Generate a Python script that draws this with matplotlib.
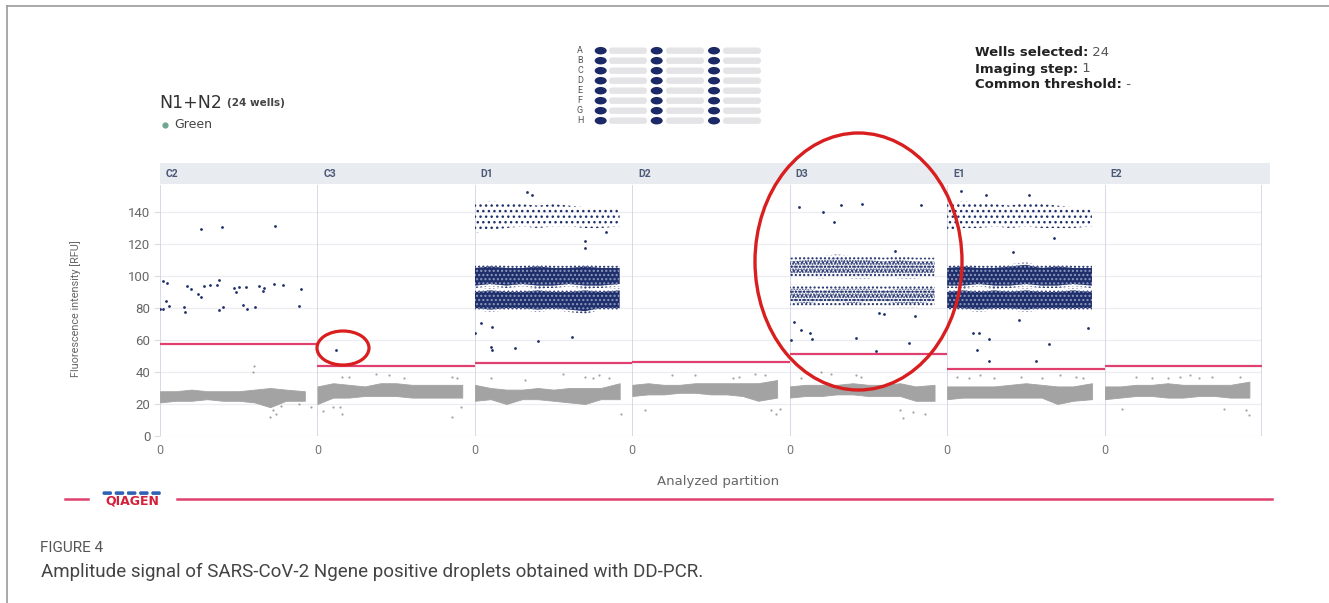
import matplotlib
matplotlib.use("Agg")
import matplotlib.pyplot as plt
from matplotlib.patches import Ellipse, Rectangle, FancyBboxPatch
import numpy as np

W, H = 1329, 603

# ---------------- data ----------------
wells = ["C2", "C3", "D1", "D2", "D3", "E1", "E2"]
thresholds = [57.5, 43.5, 45.4, 46.0, 51.3, 42.1, 43.5]
knots = [0, 100, 200, 300, 400, 500, 600, 700, 800, 920]

gray_lo = {
    "C2": [21, 22, 22, 23, 22, 22, 21, 18, 22, 22],
    "C3": [20, 24, 24, 25, 25, 25, 24, 24, 24, 24],
    "D1": [22, 23, 20, 23, 23, 22, 21, 20, 23, 23],
    "D2": [25, 26, 26, 27, 27, 26, 26, 25, 22, 24],
    "D3": [24, 25, 25, 26, 26, 25, 25, 25, 22, 22],
    "E1": [23, 24, 24, 24, 24, 24, 24, 20, 22, 23],
    "E2": [23, 24, 25, 25, 24, 24, 25, 25, 24, 24],
}
gray_hi = {
    "C2": [28, 28, 29, 28, 28, 28, 29, 30, 29, 28],
    "C3": [31, 33, 32, 31, 33, 33, 32, 32, 32, 32],
    "D1": [32, 30, 29, 29, 30, 29, 30, 30, 30, 33],
    "D2": [32, 33, 32, 32, 33, 33, 33, 33, 33, 35],
    "D3": [31, 32, 32, 32, 33, 32, 32, 33, 31, 32],
    "E1": [31, 31, 31, 31, 32, 33, 32, 31, 31, 33],
    "E2": [31, 31, 32, 32, 33, 32, 32, 32, 32, 34],
}

# dense positive droplet bands (lower, upper) per well
band_hi_lo = {"D1": [94, 95, 94, 95, 94, 94, 95, 94, 94, 95], "D3": [100, 101, 100, 101, 100, 100, 101, 100, 100, 101], "E1": [94, 94, 95, 94, 94, 95, 94, 94, 95, 94]}
band_hi_hi = {"D1": [105, 106, 105, 105, 106, 105, 105, 106, 105, 105], "D3": [110, 111, 111, 112, 111, 111, 110, 111, 110, 110], "E1": [105, 106, 105, 105, 106, 107, 105, 106, 105, 105]}
band_lo_lo = {"D1": [80, 79, 80, 80, 79, 80, 79, 78, 80, 80], "D3": [83, 82, 83, 83, 82, 83, 83, 82, 82, 83], "E1": [80, 80, 79, 80, 80, 79, 80, 80, 80, 80]}
band_lo_hi = {"D1": [90, 91, 90, 90, 91, 90, 90, 91, 90, 91], "D3": [93, 93, 92, 93, 93, 93, 92, 93, 93, 93], "E1": [90, 91, 90, 91, 90, 91, 90, 90, 91, 90]}
top_lo = {"D1": [127, 129, 130, 131, 130, 131, 131, 130, 130, 131], "E1": [129, 130, 130, 131, 130, 131, 130, 130, 130, 131]}
top_hi = {"D1": [146, 147, 146, 145, 144, 145, 144, 143, 143, 142], "E1": [146, 147, 146, 145, 144, 146, 145, 144, 143, 142]}

# sparse positive droplets (x partition, RFU)
pos_x = {
    "C2": [0, 17, 21, 42, 36, 57, 155, 159, 170, 199, 239, 260, 262, 277, 320, 361, 377, 375, 403, 392,
           472, 483, 504, 526, 546, 550, 604, 631, 652, 663, 724, 731, 780, 881, 896],
    "C3": [119],
    "D1": [42, 106, 404, 614, 102, 106, 254, 0, 698, 698, 334, 364, 834],
    "D2": [],
    "D3": [57, 212, 324, 461, 836, 282, 26, 70, 127, 142, 7, 424, 546, 756, 671, 565, 597, 795],
    "E1": [163, 205, 267, 188, 269, 562, 649, 892, 454, 418, 90, 518, 248, 678],
    "E2": [],
}
pos_y = {
    "C2": [79.4, 79.5, 97, 95.4, 84.4, 81.2, 80.4, 77.3, 93.7, 92, 88.5, 87, 129.4, 93.7, 94.2, 94.2, 97.5, 79,
           80.6, 130.4, 92.3, 90.2, 93.1, 81.9, 93.3, 79.4, 80.8, 93.9, 90.6, 92.3, 94.8, 131.4, 94.4, 81.2, 91.9],
    "C3": [53.8],
    "D1": [70.4, 68.3, 59.6, 62, 55.8, 53.8, 54.8, 64.2, 121.9, 117.7, 152.3, 150.6, 127.7],
    "D2": [],
    "D3": [143.3, 140.2, 144.4, 145, 144.4, 134, 71, 66.3, 64.2, 60.6, 60, 61.5, 53.3, 57.9, 115.6, 76.8, 76, 75],
    "E1": [64.6, 64.2, 60.4, 53.8, 47.1, 46.7, 57.7, 67.7, 72.5, 115, 153, 150.8, 150.8, 123.5],
    "E2": [],
}
# sparse negative droplets (x partition, RFU)
neg_x = {
    "C2": [598, 592, 700, 720, 740, 770, 880, 960],
    "C3": [36, 99, 146, 156, 853, 915, 375, 453, 549, 156, 203, 853, 885],
    "D1": [100, 320, 560, 700, 750, 790, 850, 930],
    "D2": [80, 250, 400, 640, 680, 780, 840, 880, 910, 940],
    "D3": [70, 200, 260, 420, 450, 700, 720, 780, 860],
    "E1": [60, 140, 210, 300, 470, 600, 720, 820, 860],
    "E2": [110, 200, 300, 400, 480, 540, 600, 680, 760, 860, 900, 920],
}
neg_y = {
    "C2": [44, 40, 12, 16, 14, 19, 20, 18],
    "C3": [15.6, 18.3, 18.3, 13.5, 12, 18.3, 38.7, 38, 36, 37, 36.7, 36.7, 36],
    "D1": [36, 35, 39, 37, 36, 38, 36, 14],
    "D2": [16, 38, 38, 36, 37, 39, 38, 16, 14, 17],
    "D3": [36, 40, 39, 38, 37, 16, 11, 15, 14],
    "E1": [37, 36, 38, 36, 37, 36, 38, 37, 36],
    "E2": [17, 37, 36, 36, 37, 38, 36, 37, 17, 37, 16, 13],
}

y_ticks = [0, 20, 40, 60, 80, 100, 120, 140]

# ---------------- figure ----------------
plt.rcParams["font.family"] = ["Roboto", "DejaVu Sans"]
plt.rcParams["hatch.linewidth"] = 1.0
fig = plt.figure(figsize=(W / 100, H / 100), dpi=100)
fig.patch.set_facecolor("white")

NAVY = "#1f2f6b"
GRAY = "#a3a3a3"
PINK = "#e0406e"

px_left, px_right = 160, 1262
px_top, px_bot = 185, 436
pw = (px_right - px_left) / len(wells)

axes = []
for i, w in enumerate(wells):
    l = px_left + i * pw
    ax = fig.add_axes([l / W, 1 - px_bot / H, pw / W, (px_bot - px_top) / H])
    ax.set_xlim(0, 1000)
    ax.set_ylim(0, 156.9)
    for s in ax.spines.values():
        s.set_visible(False)
    ax.axvline(0, color="#d3d7e5", lw=1.3, zorder=1)
    if i == len(wells) - 1:
        ax.axvline(1000, color="#d3d7e5", lw=1.3, zorder=1)
    for yt in y_ticks:
        ax.axhline(yt, color="#ececf2", lw=0.9, zorder=0)
    ax.set_yticks(y_ticks)
    ax.set_xticks([0])
    ax.set_xticklabels(["0"])
    ax.tick_params(axis="x", length=0, pad=6, labelsize=9, labelcolor="#777777")
    if i == 0:
        ax.tick_params(axis="y", length=4, color="#dddddd", pad=3, labelsize=9.5, labelcolor="#666666")
    else:
        ax.tick_params(axis="y", length=0, labelleft=False)

    # negative cluster band
    ax.fill_between(knots, gray_lo[w], gray_hi[w], color=GRAY, lw=0.6, edgecolor=GRAY, zorder=2)
    ax.scatter(neg_x[w], neg_y[w], s=2.5, color=GRAY, lw=0, zorder=2)

    # threshold
    ax.axhline(thresholds[i], color=PINK, lw=1.6, zorder=3)

    # positive bands
    if w in band_hi_lo:
        dense = w != "D3"
        for lo, hi in ((band_hi_lo[w], band_hi_hi[w]), (band_lo_lo[w], band_lo_hi[w])):
            lo = np.asarray(lo, float)
            hi = np.asarray(hi, float)
            # fuzzy fringe
            ax.fill_between(knots, lo - 1.5, hi + 1.5, facecolor="none", edgecolor=NAVY, hatch="....", lw=0, zorder=3)
            if dense:
                ax.fill_between(knots, lo, hi, facecolor=NAVY, edgecolor="#8f9ac0", hatch="....", lw=0, zorder=3)
            else:
                ax.fill_between(knots, lo + 1.0, hi - 1.0, facecolor="none", edgecolor=NAVY, hatch="......", lw=0, zorder=3)
    if w in top_lo:
        ax.fill_between(knots, top_lo[w], top_hi[w], facecolor="none", edgecolor=NAVY, hatch="...", lw=0, zorder=3)
    ax.scatter(pos_x[w], pos_y[w], s=4, color=NAVY, lw=0, zorder=4)
    axes.append(ax)

# ---------------- overlay decorations (pixel coords) ----------------
ov = fig.add_axes([0, 0, 1, 1], zorder=10)
ov.set_xlim(0, W)
ov.set_ylim(H, 0)
ov.axis("off")
ov.patch.set_alpha(0)

# frame
ov.plot([7, W], [6, 6], color="#999999", lw=1.2)
ov.plot([7, 7], [6, H], color="#999999", lw=1.2)

# header strip
ov.add_patch(Rectangle((160, 163), 1270 - 160, 21, facecolor="#e8ecf1", edgecolor="none", zorder=1))
for i, w in enumerate(wells):
    ov.text(px_left + i * pw + 6, 174, w, fontsize=7.5, color="#4b5876", va="center", ha="left",
            fontweight="bold")

# y label
ov.text(76, 309, "Fluorescence intensity [RFU]", rotation=90, fontsize=7.8, color="#666666",
        ha="center", va="center")

# title and legend
t = ov.text(159, 103, "N1+N2", fontsize=12.5, color="#333333", va="center", ha="left", family="DejaVu Sans")
ov.annotate("(24 wells)", xy=(1, 0.5), xycoords=t, xytext=(4, 0), textcoords="offset points",
            fontsize=7.5, color="#444444", va="center", ha="left", family="DejaVu Sans", fontweight="bold")
ov.plot([164.5], [125], "o", ms=4.5, color="#6fa890", mec="none")
ov.text(174, 125, "Green", fontsize=9, color="#444444", va="center", ha="left", family="DejaVu Sans")

# plate map
rows = ["A", "B", "C", "D", "E", "F", "G", "H"]
for r, lab in enumerate(rows):
    yy = 50.7 + r * 10
    ov.text(580, yy, lab, fontsize=6.5, color="#555555", va="center", ha="center")
    for cx, bx in ((600.7, 609), (656.7, 666), (714, 723)):
        ov.add_patch(FancyBboxPatch((bx, yy - 3.2), 38, 6.4, boxstyle="round,pad=0,rounding_size=3.2",
                                    facecolor="#e4e4e6", edgecolor="none"))
        ov.add_patch(Ellipse((cx, yy), 12, 7.5, facecolor="#1b2a66", edgecolor="none"))

# info text
info = [("Wells selected:", " 24", 53), ("Imaging step:", " 1", 69), ("Common threshold:", " -", 85)]
for bold, norm, yy in info:
    t = ov.text(975, yy, bold, fontsize=9.5, fontweight="bold", color="#222222", va="center", ha="left",
                family="DejaVu Sans")
    ov.annotate(norm, xy=(1, 0.5), xycoords=t, fontsize=9.5, color="#555555", va="center", ha="left",
                family="DejaVu Sans")

# x axis label
ov.text(718, 481, "Analyzed partition", fontsize=9.5, color="#666666", ha="center", va="center",
        family="DejaVu Sans")

# ellipses
ov.add_patch(Ellipse((343, 348), 52, 34, facecolor="none", edgecolor="#d81e1e", lw=2.3))
ov.add_patch(Ellipse((858.5, 261.5), 207, 257, facecolor="none", edgecolor="#d81e1e", lw=2.4))

# footer line and logo
ov.plot([65, 88], [499, 499], color=PINK, lw=1.8)
ov.plot([177, 1272], [499, 499], color=PINK, lw=1.8)
for k in range(5):
    ov.add_patch(FancyBboxPatch((102.5 + k * 12.2, 491.3), 9.5, 3.6, boxstyle="round,pad=0,rounding_size=1.5",
                                facecolor="#2f62b5", edgecolor="none"))
ov.text(132.5, 500.5, "QIAGEN", fontsize=9, fontweight="bold", color="#d6203a", ha="center", va="center",
        family="DejaVu Sans")

# caption
ov.text(40, 548, "FIGURE 4", fontsize=11, color="#555555", ha="left", va="center")
ov.text(41, 572, "Amplitude signal of SARS-CoV-2 Ngene positive droplets obtained with DD-PCR.",
        fontsize=13.5, color="#444444", ha="left", va="center")

fig.savefig("out.png", dpi=100)
